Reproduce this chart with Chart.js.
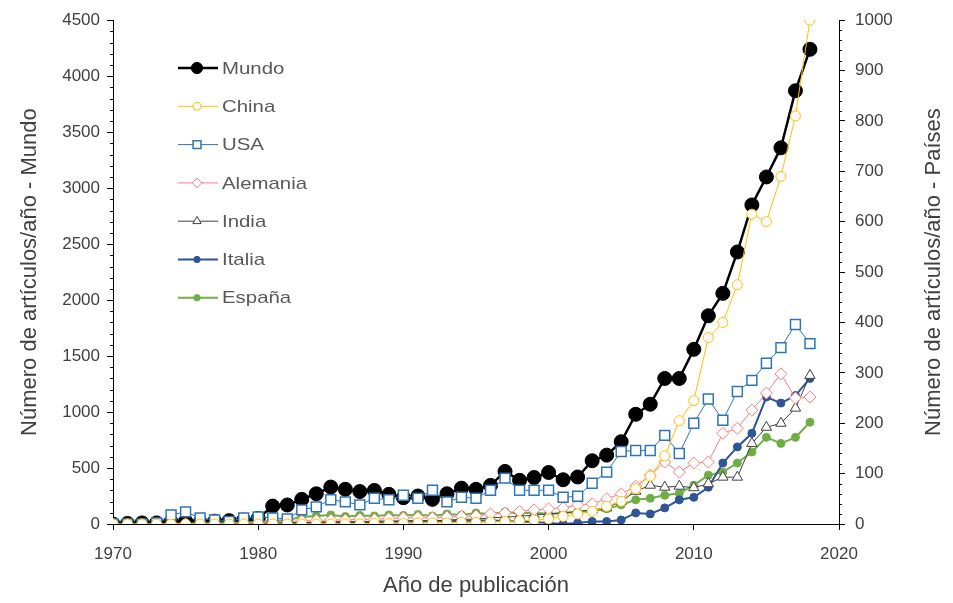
<!DOCTYPE html>
<html>
<head>
<meta charset="utf-8">
<title>Artículos por año</title>
<script src="https://cdn.jsdelivr.net/npm/chart.js@4.4.1/dist/chart.umd.min.js"></script>
<style>
  html, body { margin: 0; padding: 0; background: #fff; }
  #wrap { width: 953px; height: 603px; }
</style>
</head>
<body>
<div id="wrap"><canvas id="chart" width="953" height="603"></canvas></div>
<script>
// años de publicación
var years = [1970, 1971, 1972, 1973, 1974, 1975, 1976, 1977, 1978, 1979,
             1980, 1981, 1982, 1983, 1984, 1985, 1986, 1987, 1988, 1989,
             1990, 1991, 1992, 1993, 1994, 1995, 1996, 1997, 1998, 1999,
             2000, 2001, 2002, 2003, 2004, 2005, 2006, 2007, 2008, 2009,
             2010, 2011, 2012, 2013, 2014, 2015, 2016, 2017, 2018];

// eje izquierdo
var mundo = [0, 5, 10, 10, 20, 25, 15, 25, 30, 35,
             50, 160, 170, 220, 270, 330, 310, 290, 300, 265,
             235, 250, 220, 270, 320, 310, 345, 470, 390, 415,
             460, 395, 420, 565, 615, 735, 980, 1070, 1300, 1300,
             1560, 1860, 2060, 2430, 2850, 3100, 3360, 3870, 4240];

// eje derecho
var china = [0, 0, 0, 0, 0, 0, 0, 0, 0, 0,
             0, 0, 0, 0, 0, 0, 0, 0, 1, 1,
             1, 2, 2, 2, 3, 3, 4, 5, 6, 8,
             10, 15, 20, 25, 35, 45, 70, 95, 135, 205,
             245, 370, 400, 475, 615, 600, 690, 810, 1000];

var usa = [0, 0, 0, 2, 18, 24, 12, 8, 5, 12,
           14, 12, 10, 28, 34, 48, 44, 38, 51, 48,
           57, 51, 67, 44, 53, 51, 67, 91, 67, 67,
           67, 53, 55, 81, 103, 144, 146, 146, 176, 140,
           200, 248, 206, 263, 285, 319, 350, 396, 358];

var alemania = [0, 0, 0, 0, 1, 0, 2, 1, 2, 3,
                3, 4, 5, 6, 7, 8, 8, 10, 9, 11,
                12, 13, 12, 14, 15, 16, 20, 22, 25, 28,
                30, 32, 38, 40, 50, 60, 75, 97, 123, 103,
                121, 123, 180, 190, 226, 260, 298, 250, 252];

var india = [0, 0, 0, 0, 0, 0, 0, 0, 0, 1,
             1, 2, 2, 3, 3, 4, 5, 4, 6, 5,
             6, 7, 6, 8, 9, 10, 12, 14, 15, 18,
             20, 22, 25, 28, 32, 45, 65, 77, 73, 75,
             72, 80, 93, 93, 160, 192, 200, 230, 295];

var italia = [0, 0, 0, 0, 0, 0, 0, 0, 1, 0,
              1, 1, 2, 2, 3, 3, 3, 4, 4, 5,
              5, 5, 6, 6, 6, 7, 7, 6, 5, 4,
              2, 0, 2, 5, 5, 8, 22, 20, 32, 48,
              53, 73, 121, 153, 180, 252, 240, 255, 289];

var espana = [0, 0, 0, 0, 0, 1, 1, 2, 2, 3,
              4, 6, 8, 14, 16, 18, 15, 17, 16, 18,
              17, 19, 16, 20, 18, 22, 20, 24, 21, 23,
              20, 22, 24, 26, 30, 38, 48, 51, 57, 61,
              77, 97, 103, 121, 143, 172, 160, 172, 202];

function pts(vals) {
    return years.map(function (y, i) { return {x: y, y: vals[i]}; });
}

var textColor = '#404040';
var fontFamily = '"Liberation Sans", Arial, sans-serif';
var titleFont = {family: fontFamily, size: 22};

// números sin separador de miles
function plain(v) { return String(v); }

// ticks menores de los dos ejes verticales
var minorTicks = {
    id: 'minorTicks',
    afterDraw: function (chart) {
        var ctx = chart.ctx;
        ctx.save();
        ctx.strokeStyle = '#000';
        ctx.lineWidth = 1;
        var y = chart.scales.y, y1 = chart.scales.y1;
        ctx.beginPath();
        for (var v = 0; v <= 4500; v += 100) {
            if (v % 500 === 0) continue;
            var py = Math.round(y.getPixelForValue(v)) + 0.5;
            ctx.moveTo(y.right - 3, py);
            ctx.lineTo(y.right, py);
        }
        for (var w = 0; w <= 1000; w += 20) {
            if (w % 100 === 0) continue;
            var qy = Math.round(y1.getPixelForValue(w)) + 0.5;
            ctx.moveTo(y1.left, qy);
            ctx.lineTo(y1.left + 3, qy);
        }
        ctx.stroke();
        ctx.restore();
    }
};

// leyenda dentro del área de datos
var insideLegend = {
    id: 'insideLegend',
    afterDraw: function (chart) {
        var ctx = chart.ctx;
        ctx.save();
        chart.data.datasets.forEach(function (ds, i) {
            var y = 68 + i * 38.3;
            ctx.strokeStyle = ds.borderColor;
            ctx.lineWidth = ds.borderWidth;
            ctx.beginPath();
            ctx.moveTo(178, y);
            ctx.lineTo(218, y);
            ctx.stroke();
            ctx.fillStyle = ds.pointBackgroundColor;
            ctx.lineWidth = ds.pointBorderWidth;
            Chart.helpers.drawPoint(ctx, {
                pointStyle: ds.pointStyle,
                radius: ds.pointRadius * 0.8,
                rotation: 0,
                borderWidth: ds.pointBorderWidth
            }, 197, y);
            // texto algo ensanchado
            ctx.save();
            ctx.translate(222, y + 1);
            ctx.scale(1.2, 1);
            ctx.fillStyle = '#595959';
            ctx.font = '17px ' + fontFamily;
            ctx.textBaseline = 'middle';
            ctx.textAlign = 'left';
            ctx.fillText(ds.label, 0, 0);
            ctx.restore();
        });
        ctx.restore();
    }
};

// título del eje derecho, leído de abajo hacia arriba
var rightTitle = {
    id: 'rightTitle',
    afterDraw: function (chart) {
        var ctx = chart.ctx;
        var area = chart.chartArea;
        ctx.save();
        ctx.translate(934, (area.top + area.bottom) / 2);
        ctx.rotate(-Math.PI / 2);
        ctx.fillStyle = textColor;
        ctx.font = titleFont.size + 'px ' + fontFamily;
        ctx.textAlign = 'center';
        ctx.textBaseline = 'middle';
        ctx.fillText('Número de artículos/año - Países', 0, 0);
        ctx.restore();
    }
};

var datasets = [
    {label: 'Mundo', data: pts(mundo), yAxisID: 'y', order: 10,
     borderColor: '#000000', borderWidth: 2.5, pointStyle: 'circle', pointRadius: 7,
     pointBackgroundColor: '#000000', pointBorderColor: '#000000', pointBorderWidth: 1},
    {label: 'China', data: pts(china), yAxisID: 'y1',
     borderColor: '#FFC000', borderWidth: 1, pointStyle: 'circle', pointRadius: 5,
     pointBackgroundColor: '#ffffff', pointBorderColor: '#FFC000', pointBorderWidth: 1},
    {label: 'USA', data: pts(usa), yAxisID: 'y1',
     borderColor: '#2E75B6', borderWidth: 1, pointStyle: 'rect', pointRadius: 7,
     pointBackgroundColor: '#ffffff', pointBorderColor: '#2E75B6', pointBorderWidth: 1.5},
    {label: 'Alemania', data: pts(alemania), yAxisID: 'y1',
     borderColor: '#FF7C80', borderWidth: 1, pointStyle: 'rectRot', pointRadius: 6,
     pointBackgroundColor: '#ffffff', pointBorderColor: '#FF7C80', pointBorderWidth: 1},
    {label: 'India', data: pts(india), yAxisID: 'y1',
     borderColor: '#404040', borderWidth: 1, pointStyle: 'triangle', pointRadius: 6,
     pointBackgroundColor: '#ffffff', pointBorderColor: '#404040', pointBorderWidth: 1},
    {label: 'Italia', data: pts(italia), yAxisID: 'y1',
     borderColor: '#2F5597', borderWidth: 2, pointStyle: 'circle', pointRadius: 4,
     pointBackgroundColor: '#2F5597', pointBorderColor: '#2F5597', pointBorderWidth: 1},
    {label: 'España', data: pts(espana), yAxisID: 'y1',
     borderColor: '#70AD47', borderWidth: 2, pointStyle: 'circle', pointRadius: 4,
     pointBackgroundColor: '#70AD47', pointBorderColor: '#70AD47', pointBorderWidth: 1}
];

var tickFont = {family: fontFamily, size: 17};

new Chart(document.getElementById('chart').getContext('2d'), {
    type: 'line',
    data: {datasets: datasets},
    options: {
        responsive: false,
        animation: false,
        devicePixelRatio: 1,
        layout: {padding: {top: 19, left: 0, right: 0, bottom: 0}},
        elements: {line: {tension: 0}},
        plugins: {legend: {display: false}, tooltip: {enabled: false}},
        scales: {
            x: {
                type: 'linear', min: 1970, max: 2020,
                ticks: {stepSize: 10, color: textColor, font: tickFont, padding: 14, callback: plain},
                grid: {drawOnChartArea: false, tickLength: 6, tickColor: '#000'},
                border: {color: '#000', width: 1},
                title: {display: true, text: 'Año de publicación', color: textColor,
                        font: titleFont, padding: {top: 0, bottom: 4}},
                afterFit: function (s) { s.height = 79; }
            },
            y: {
                position: 'left', min: 0, max: 4500,
                ticks: {stepSize: 500, color: textColor, font: tickFont, padding: 7, callback: plain},
                grid: {drawOnChartArea: false, tickLength: 6, tickColor: '#000'},
                border: {color: '#000', width: 1},
                title: {display: true, text: 'Número de artículos/año - Mundo', color: textColor,
                        font: titleFont, padding: {top: 17, bottom: 0}},
                afterFit: function (s) { s.width = 113; }
            },
            y1: {
                position: 'right', min: 0, max: 1000,
                ticks: {stepSize: 100, color: textColor, font: tickFont, padding: 10, callback: plain},
                grid: {drawOnChartArea: false, tickLength: 6, tickColor: '#000'},
                border: {color: '#000', width: 1},
                afterFit: function (s) { s.width = 114; }
            }
        }
    },
    plugins: [minorTicks, insideLegend, rightTitle]
});
</script>
</body>
</html>
